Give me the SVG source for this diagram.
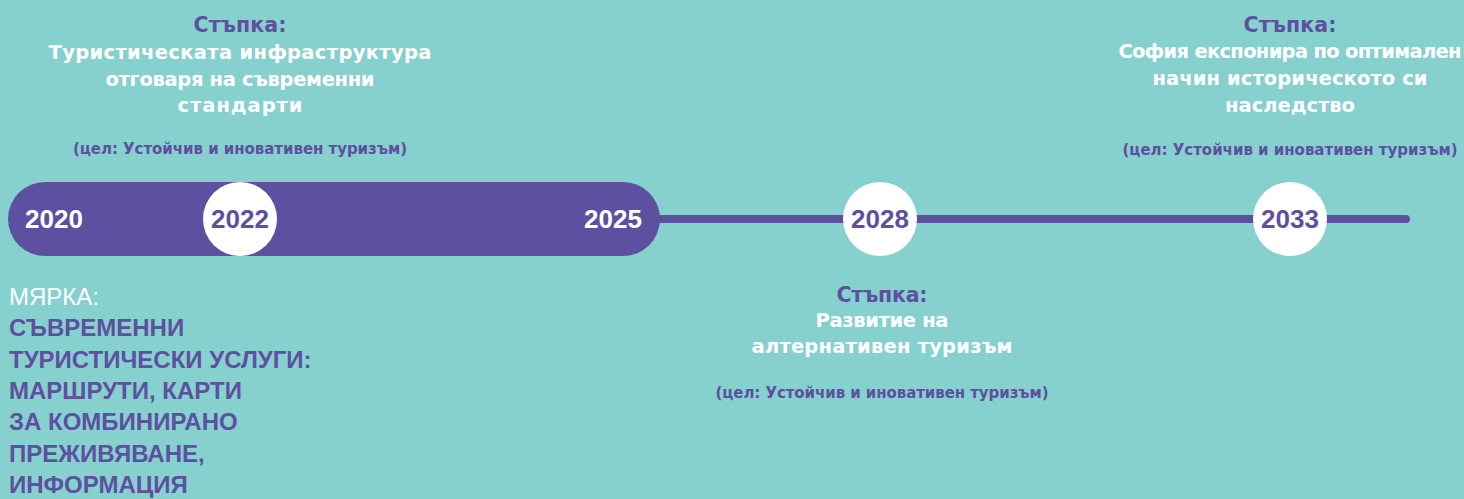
<svg xmlns="http://www.w3.org/2000/svg" width="1464" height="499" viewBox="0 0 1464 499">
<style>
.bg{fill:#86d0ce}
.pill{fill:#5d50a0}
.line{stroke:#5d50a0;stroke-width:8;stroke-linecap:round;fill:none}
.dot{fill:#ffffff}
.yr{font-family:"Liberation Sans",Arial,sans-serif;font-weight:bold;font-size:26px;text-anchor:middle}
.yw{fill:#ffffff}
.yp{fill:#5d50a0}
.t{font-family:"DejaVu Sans","Liberation Sans",sans-serif;text-anchor:middle}
.h{fill:#5d50a0;font-size:20.5px;font-weight:700}
.w{fill:#ffffff;font-size:19.5px;font-weight:700}
.g{fill:#5d50a0;font-size:15px;font-weight:700}
.m{font-family:"Liberation Sans",Arial,sans-serif;font-size:24px}
</style>
<rect class="bg" x="0" y="0" width="1464" height="499"/>
<g id="connectors">
<line class="line" x1="640" y1="219" x2="1406" y2="219"/>
</g>
<g id="bar">
<rect class="pill" x="8" y="182" width="652" height="74" rx="37" ry="37"/>
<text class="yr yw" x="54" y="228">2020</text>
<text class="yr yw" x="613" y="228">2025</text>
</g>
<g id="y2022">
<circle class="dot" cx="240" cy="219" r="37"/>
<text class="yr yp" x="240" y="228">2022</text>
</g>
<g id="y2028">
<circle class="dot" cx="880" cy="219" r="37"/>
<text class="yr yp" x="880" y="228">2028</text>
</g>
<g id="y2033">
<circle class="dot" cx="1290" cy="219" r="37"/>
<text class="yr yp" x="1290" y="228">2033</text>
</g>
<g id="step1" class="t" xml:lang="bg">
<text class="h" x="240" y="32" textLength="93" lengthAdjust="spacing">Стъпка:</text>
<text class="w" x="240" y="59" textLength="383" lengthAdjust="spacing">Туристическата инфраструктура</text>
<text class="w" x="240" y="86" textLength="269" lengthAdjust="spacing">отговаря на съвременни</text>
<text class="w" x="240" y="112" textLength="125" lengthAdjust="spacing">стандарти</text>
<text class="g" x="240" y="154" textLength="334" lengthAdjust="spacing">(цел: Устойчив и иновативен туризъм)</text>
</g>
<g id="step2" class="t" xml:lang="bg">
<text class="h" x="1290" y="32" textLength="93" lengthAdjust="spacing">Стъпка:</text>
<text class="w" x="1290" y="58" textLength="343" lengthAdjust="spacing">София експонира по оптимален</text>
<text class="w" x="1290" y="85" textLength="275" lengthAdjust="spacing">начин историческото си</text>
<text class="w" x="1290" y="112" textLength="130" lengthAdjust="spacing">наследство</text>
<text class="g" x="1290" y="155" textLength="335" lengthAdjust="spacing">(цел: Устойчив и иновативен туризъм)</text>
</g>
<g id="step3" class="t" xml:lang="bg">
<text class="h" x="882" y="302" textLength="91" lengthAdjust="spacing">Стъпка:</text>
<text class="w" x="882" y="327" textLength="133" lengthAdjust="spacing">Развитие на</text>
<text class="w" x="882" y="353" textLength="261" lengthAdjust="spacing">алтернативен туризъм</text>
<text class="g" x="882" y="398" textLength="333" lengthAdjust="spacing">(цел: Устойчив и иновативен туризъм)</text>
</g>
<g id="measure" class="m">
<text x="9" y="305" fill="#ffffff">МЯРКА:</text>
<g fill="#5d50a0" font-weight="bold">
<text x="9" y="336">СЪВРЕМЕННИ</text>
<text x="9" y="368">ТУРИСТИЧЕСКИ УСЛУГИ:</text>
<text x="9" y="399">МАРШРУТИ, КАРТИ</text>
<text x="9" y="430">ЗА КОМБИНИРАНО</text>
<text x="9" y="462">ПРЕЖИВЯВАНЕ,</text>
<text x="9" y="493">ИНФОРМАЦИЯ</text>
</g>
</g>
</svg>
